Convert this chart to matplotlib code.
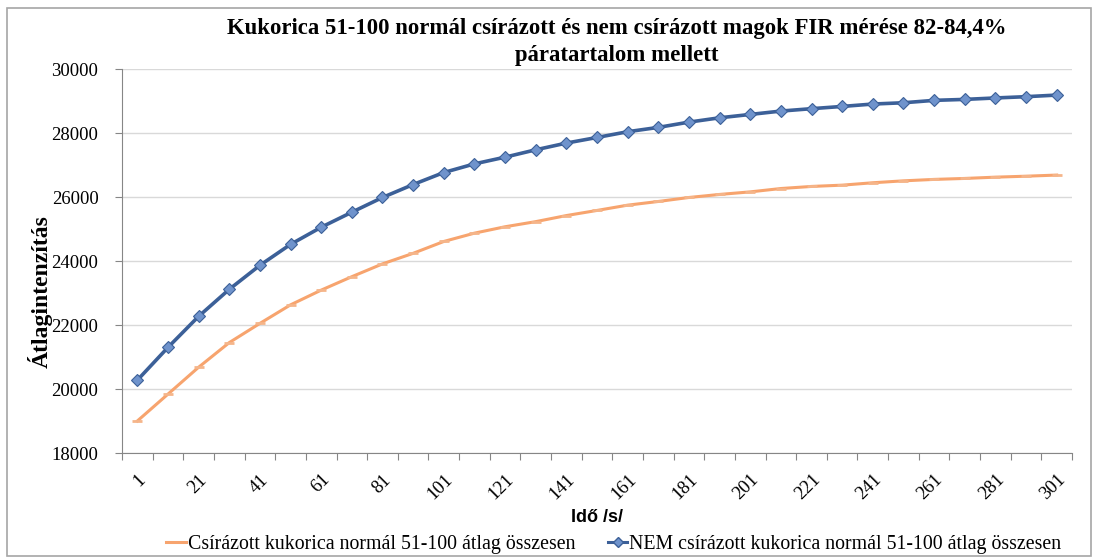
import matplotlib
matplotlib.use("Agg")
import matplotlib.pyplot as plt
from matplotlib.patches import Rectangle
from matplotlib.lines import Line2D

times = ["1", "11", "21", "31", "41", "51", "61", "71", "81", "91", "101",
         "111", "121", "131", "141", "151", "161", "171", "181", "191", "201",
         "211", "221", "231", "241", "251", "261", "271", "281", "291", "301"]

csirazott = [19000, 19840, 20680, 21450, 22050, 22630, 23090, 23510, 23910, 24240,
             24610, 24870, 25070, 25230, 25420, 25580, 25745, 25860, 25985, 26080,
             26160, 26265, 26330, 26370, 26445, 26505, 26550, 26580, 26620, 26650,
             26685]

nem_csirazott = [20275, 21300, 22270, 23115, 23865, 24520, 25055, 25525, 25985, 26390,
                 26765, 27035, 27245, 27475, 27685, 27860, 28040, 28175, 28340, 28475,
                 28580, 28685, 28760, 28830, 28905, 28945, 29020, 29050, 29095, 29135,
                 29185]

label_csir = "Csírázott kukorica normál 51-100 átlag összesen"
label_nem = "NEM csírázott kukorica normál 51-100 átlag összesen"
title = "Kukorica 51-100 normál csírázott és nem csírázott magok FIR mérése 82-84,4%\npáratartalom mellett"
y_ticks = [18000, 20000, 22000, 24000, 26000, 28000, 30000]

W, H = 1098, 557
fig = plt.figure(figsize=(W / 100, H / 100), dpi=100)
fig.patch.set_facecolor("white")

# chart border
fig.add_artist(Rectangle((7 / W, 1 - 556 / H), (1091 - 7) / W, (556 - 8) / H,
                         transform=fig.transFigure, fill=False,
                         edgecolor="#a6a6a6", linewidth=1.2))

left, right, top, bottom = 122, 1072, 69, 453
ax = fig.add_axes([left / W, 1 - bottom / H, (right - left) / W, (bottom - top) / H])

serif = "Liberation Serif"
x = list(range(len(times)))

ax.plot(x, csirazott, color="#f7a46e", linewidth=2.2, marker="_", markersize=7,
        markeredgecolor="#f5b58a", markeredgewidth=2, zorder=3)
ax.plot(x, nem_csirazott, color="#3c6098", linewidth=2.6, marker="D", markersize=6,
        markerfacecolor="#6f93cc", markeredgecolor="#3c6098", markeredgewidth=0.8,
        zorder=4)

ax.set_xlim(-0.5, len(times) - 0.5)
ax.set_ylim(18000, 30000)
ax.set_yticks(y_ticks)
ax.set_yticklabels([str(v) for v in y_ticks], fontfamily=serif, fontsize=13.5)
ax.yaxis.grid(True, color="#d9d9d9", linewidth=1)
ax.set_axisbelow(True)

# category ticks between categories, labels every other category
ax.set_xticks([i - 0.5 for i in range(len(times) + 1)])
ax.set_xticklabels([])
ax.set_xticks(x[::2], minor=True)
ax.set_xticklabels(times[::2], minor=True, rotation=45, fontfamily=serif,
                   fontsize=13.5, ha="right", va="top", rotation_mode="anchor")
ax.tick_params(axis="x", which="minor", length=0, pad=13)
ax.tick_params(axis="x", which="major", length=5, color="#868686")
ax.tick_params(axis="y", length=5, color="#868686", pad=12)

for s in ["top", "right"]:
    ax.spines[s].set_visible(False)
for s in ["left", "bottom"]:
    ax.spines[s].set_color("#868686")

fig.text(617 / W, 1 - 42 / H, title, ha="center", va="center", fontfamily=serif,
         fontweight="bold", fontsize=16.4, linespacing=1.35)

fig.text(40 / W, 1 - 292 / H, "Átlagintenzítás", rotation=90, ha="center", va="center",
         fontfamily=serif, fontweight="bold", fontsize=17)
fig.text(597 / W, 1 - 518 / H, "Idő /s/", ha="center", va="center",
         fontfamily="Liberation Sans", fontweight="bold", fontsize=13)

handles = [
    Line2D([0], [0], color="#f7a46e", linewidth=2.2),
    Line2D([0], [0], color="#3c6098", linewidth=2.2, marker="D", markersize=5,
           markerfacecolor="#6f93cc", markeredgecolor="#3c6098"),
]
fig.legend(handles, [label_csir, label_nem], loc="center", ncol=2,
           bbox_to_anchor=(614 / W, 1 - 544 / H), frameon=False,
           prop={"family": serif, "size": 14.3}, handlelength=1.0,
           handletextpad=0.1, columnspacing=1.6)

fig.savefig("out.png", dpi=100, facecolor="white")
